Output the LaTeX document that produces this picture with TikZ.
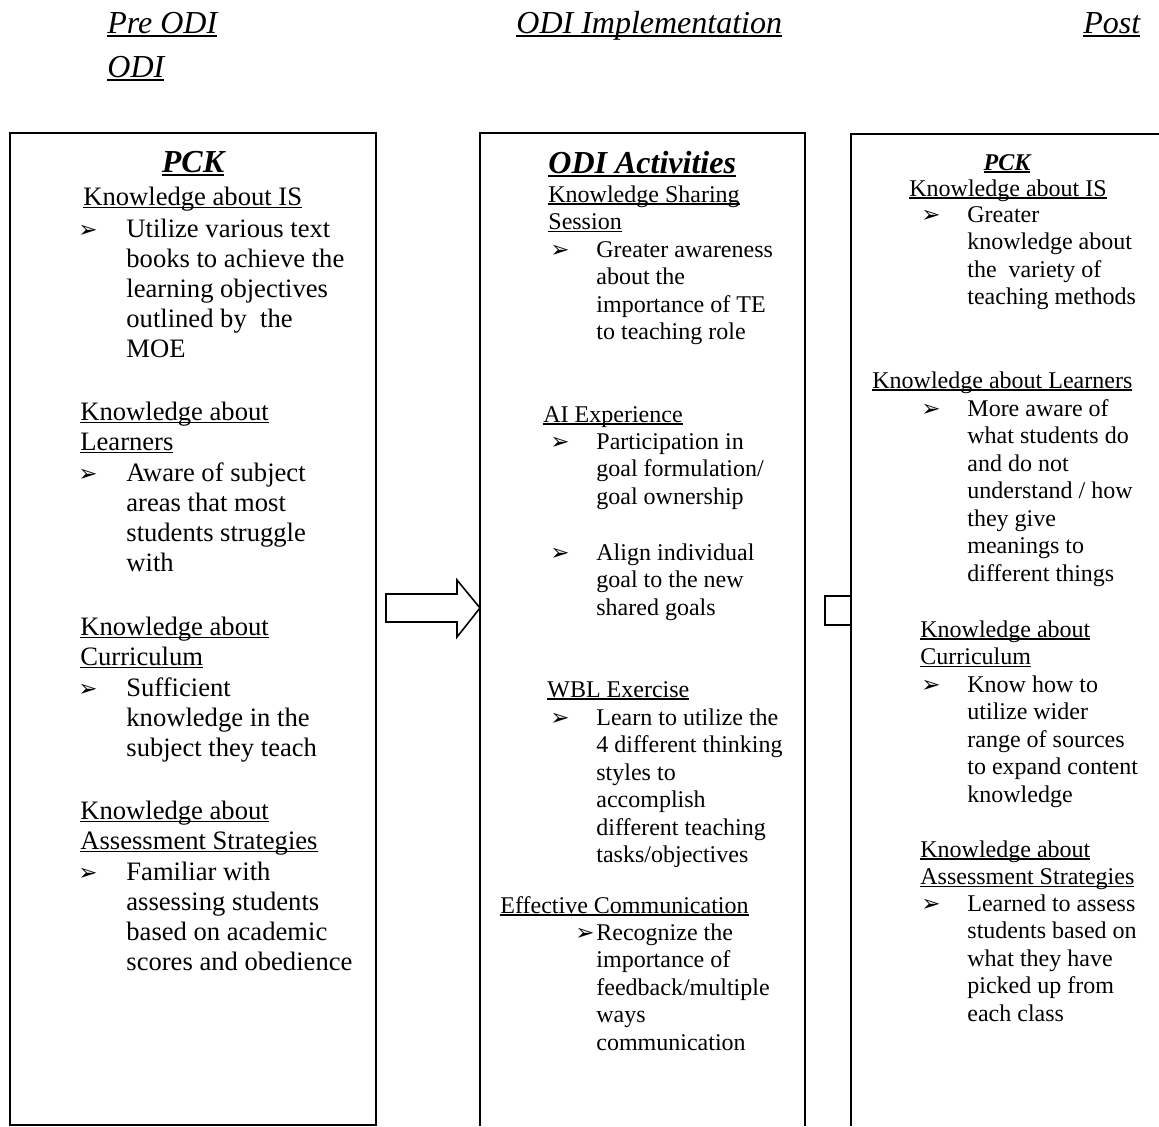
\documentclass[tikz,border=0pt]{standalone}
\usepackage{fontspec}
\setmainfont{Liberation Serif}
\newfontfamily\arrowfont{DejaVu Sans}
\newcommand{\ul}[1]{\setbox0\hbox{#1}\rlap{\rule[-0.12em]{\wd0}{0.06em}}\box0}
\newcommand{\lines}[1]{\begin{tabular}[t]{@{}l@{}}#1\end{tabular}}
\newcommand{\bigtxt}{\fontsize{13.3}{15}\selectfont}
\newcommand{\smalltxt}{\fontsize{12}{13.75}\selectfont}
\tikzset{
  txt/.style={anchor=base west, inner sep=0pt},
  ltxt/.style={txt, font=\bigtxt},
  mtxt/.style={txt, font=\smalltxt},
  title/.style={txt, font=\fontsize{16}{18}\selectfont\itshape},
  boxhead/.style={inner sep=0pt, font=\fontsize{16}{18}\selectfont\bfseries\itshape},
  pointer/.style={anchor=base west, inner sep=0pt, font=\arrowfont\fontsize{11.5}{11.5}\selectfont},
  frame/.style={draw=black, line width=1pt},
  blockarrow/.style={draw=black, line width=0.8pt, fill=white}
}
\newcommand{\point}[5]{%
 \node[pointer] ({#1b}) at ({#3}) {➢};%
 \node[#2] ({#1}) at ({#4}) {\lines{#5}};%
}

\begin{document}
\begin{tikzpicture}[x=0.5pt,y=-0.5pt]
  \useasboundingbox (0,0) rectangle (1159,1126);
  \node[title] (pre) at (107,33) {\ul{Pre ODI}};
  \node[title] (preodi) at (107,77) {\ul{ODI}};
  \node[title] (impl) at (516,33) {\ul{ODI Implementation}};
  \node[title] (post) at (1083,33) {\ul{Post}};

  \draw[frame] (10,133) rectangle (376,1125);
  \draw[frame, line width=0.7pt] (480,1126) -- (480,133) -- (805,133) -- (805,1126);
  \draw[blockarrow] (386,594) -- (457,594) -- (457,580) -- (480,608) -- (457,637) -- (457,622) -- (386,622) -- cycle;
  \draw[blockarrow] (825,596) rectangle (851,625);
  \draw[frame] (851,1126) -- (851,134) -- (1159,134);

  \node[boxhead, anchor=base] (pck) at (193,172) {\ul{PCK}};
  \node[ltxt] (lis) at (83,205) {\ul{Knowledge about IS}};
  \point{lisp}{ltxt}{78,237}{126,237}{Utilize various text\\books to achieve the\\learning objectives\\outlined by~ the\\MOE}
  \node[ltxt] (llearn) at (80,420) {\lines{\ul{Knowledge about}\\\ul{Learners}}};
  \point{llearnp}{ltxt}{78,481}{126,481}{Aware of subject\\areas that most\\students struggle\\with}
  \node[ltxt] (lcurr) at (80,635) {\lines{\ul{Knowledge about}\\\ul{Curriculum}}};
  \point{lcurrp}{ltxt}{78,696}{126,696}{Sufficient\\knowledge in the\\subject they teach}
  \node[ltxt] (lass) at (80,819) {\lines{\ul{Knowledge about}\\\ul{Assessment Strategies}}};
  \point{lassp}{ltxt}{78,880}{126,880}{Familiar with\\assessing students\\based on academic\\scores and obedience}

  \node[boxhead, anchor=base west] (odiact) at (548,173) {\ul{ODI Activities}};
  \node[mtxt] (kss) at (548,202) {\lines{\ul{Knowledge Sharing}\\\ul{Session}}};
  \point{kssp}{mtxt}{550,257}{596,257}{Greater awareness\\about the\\importance of TE\\to teaching role}
  \node[mtxt] (aie) at (543,422) {\ul{AI Experience}};
  \point{aiep}{mtxt}{550,449}{596,449}{Participation in\\goal formulation/\\goal ownership}
  \point{aieq}{mtxt}{550,560}{596,560}{Align individual\\goal to the new\\shared goals}
  \node[mtxt] (wbl) at (547,697) {\ul{WBL Exercise}};
  \point{wblp}{mtxt}{550,725}{596,725}{Learn to utilize the\\4 different thinking\\styles to\\accomplish\\different teaching\\tasks/objectives}
  \node[mtxt] (ecom) at (500,913) {\ul{Effective Communication}};
  \point{ecomp}{mtxt}{575,940}{596,940}{Recognize the\\importance of\\feedback/multiple\\ways\\communication}

  \node[boxhead, anchor=base, font=\fontsize{12}{13.75}\selectfont\bfseries\itshape] (pck2) at (1007,170) {\ul{PCK}};
  \node[mtxt] (ris) at (909,196) {\ul{Knowledge about IS}};
  \point{risp}{mtxt}{921,222}{967,222}{Greater\\knowledge about\\the~ variety of\\teaching methods}
  \node[mtxt] (rlearn) at (872,388) {\ul{Knowledge about Learners}};
  \point{rlearnp}{mtxt}{921,416}{967,416}{More aware of\\what students do\\and do not\\understand / how\\they give\\meanings to\\different things}
  \node[mtxt] (rcurr) at (920,637) {\lines{\ul{Knowledge about}\\\ul{Curriculum}}};
  \point{rcurrp}{mtxt}{921,692}{967,692}{Know how to\\utilize wider\\range of sources\\to expand content\\knowledge}
  \node[mtxt] (rass) at (920,857) {\lines{\ul{Knowledge about}\\\ul{Assessment Strategies}}};
  \point{rassp}{mtxt}{921,911}{967,911}{Learned to assess\\students based on\\what they have\\picked up from\\each class}
\end{tikzpicture}
\end{document}
